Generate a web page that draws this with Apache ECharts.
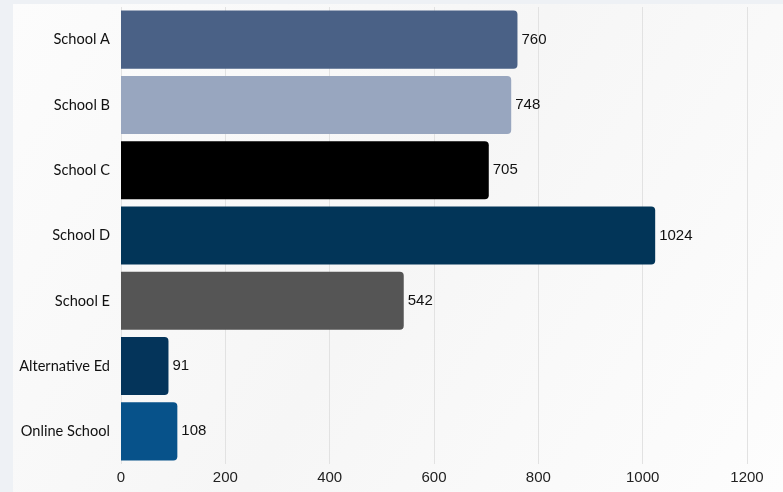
<!DOCTYPE html>
<html>
<head>
<meta charset="utf-8">
<script src="https://cdn.jsdelivr.net/npm/echarts@6/dist/echarts.min.js"></script>
<style>
  html, body { margin: 0; padding: 0; background: #eef1f5; }
  #chart { width: 783px; height: 492px; }
</style>
</head>
<body>
<div id="chart"></div>
<script>
// categories top -> bottom
var schools = ['School A', 'School B', 'School C', 'School D', 'School E', 'Alternative Ed', 'Online School']
var students = [760, 748, 705, 1024, 542, 91, 108]
var barColors = ['#4a6186', '#98a6bf', '#000000', '#023558', '#555555', '#04345a', '#07528a']
var xTicks = [0, 200, 400, 600, 800, 1000, 1200]

var dom = document.getElementById('chart')
var chart = echarts.init(dom, null, { renderer: 'canvas' })

var option = {
    backgroundColor: '#eef1f5',
    animation: false,
    graphic: [{
        type: 'rect',
        z: -10,
        shape: { x: 13, y: 4, width: 770, height: 488 },
        style: {
            fill: new echarts.graphic.LinearGradient(0, 0, 1, 1, [
                { offset: 0, color: '#fcfcfc' },
                { offset: 0.5, color: '#f6f6f6' },
                { offset: 1, color: '#fdfdfd' }
            ])
        }
    }],
    grid: {
        left: 121,
        right: 36,
        top: 7,
        bottom: 28
    },
    xAxis: {
        type: 'value',
        min: xTicks[0],
        max: xTicks[xTicks.length - 1],
        interval: 200,
        axisLine: { show: false },
        axisTick: { show: false },
        splitLine: { show: true, lineStyle: { color: '#e2e2e2', width: 1 } },
        axisLabel: {
            color: '#222',
            fontSize: 15,
            fontFamily: 'Liberation Sans',
            margin: 6,
            formatter: function (v) { return String(v) }
        }
    },
    yAxis: {
        type: 'category',
        inverse: true,
        data: schools,
        axisLine: { show: false },
        axisTick: { show: false },
        axisLabel: {
            color: '#111',
            fontSize: 14.6,
            fontFamily: 'Lato',
            margin: 11
        }
    },
    series: [{
        type: 'bar',
        barCategoryGap: '11%',
        data: students.map(function (v, i) {
            return { value: v, itemStyle: { color: barColors[i] } }
        }),
        itemStyle: { borderRadius: [0, 4, 4, 0] },
        label: {
            show: true,
            position: 'right',
            distance: 4,
            color: '#111',
            fontSize: 15,
            fontFamily: 'Liberation Sans'
        }
    }]
}
chart.setOption(option)
</script>
</body>
</html>
